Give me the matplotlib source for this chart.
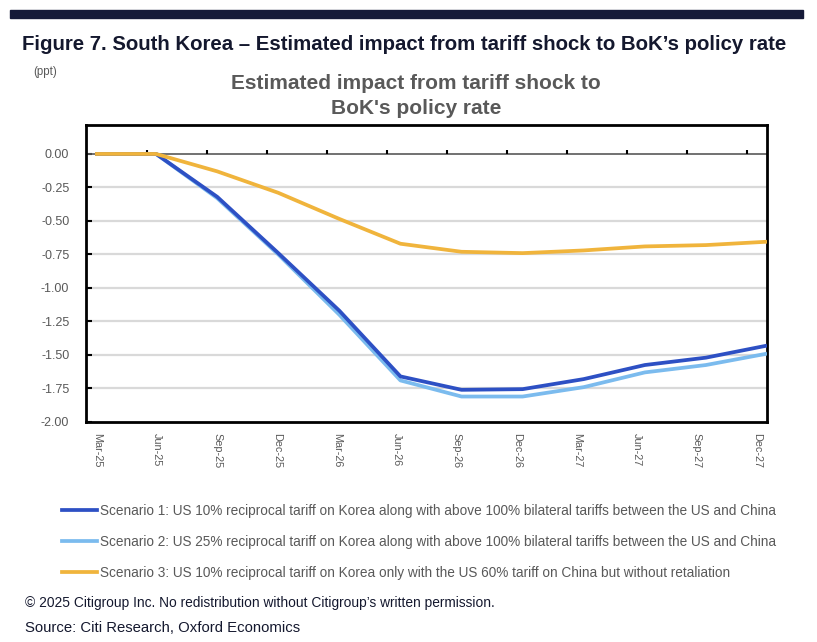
import numpy as np
import matplotlib.pyplot as plt
from matplotlib.lines import Line2D

quarters = ['Mar-25', 'Jun-25', 'Sep-25', 'Dec-25', 'Mar-26', 'Jun-26',
            'Sep-26', 'Dec-26', 'Mar-27', 'Jun-27', 'Sep-27', 'Dec-27']

# ppt impact on policy rate
scenario1 = [0.00, 0.00, -0.32, -0.74, -1.17, -1.66, -1.76, -1.755, -1.68, -1.575, -1.52, -1.43]
scenario2 = [0.00, 0.00, -0.33, -0.75, -1.20, -1.69, -1.81, -1.81, -1.74, -1.63, -1.575, -1.49]
scenario3 = [0.00, 0.00, -0.13, -0.29, -0.485, -0.67, -0.73, -0.74, -0.72, -0.69, -0.68, -0.655]

labels = [
    'Scenario 1: US 10% reciprocal tariff on Korea along with above 100% bilateral tariffs between the US and China',
    'Scenario 2: US 25% reciprocal tariff on Korea along with above 100% bilateral tariffs between the US and China',
    'Scenario 3: US 10% reciprocal tariff on Korea only with the US 60% tariff on China but without retaliation',
]
colors = ['#2d50c4', '#7bbbee', '#f0b43c']
yticks = [0.0, -0.25, -0.5, -0.75, -1.0, -1.25, -1.5, -1.75, -2.0]

plt.rcParams['font.family'] = ['Liberation Sans', 'DejaVu Sans']
grey = '#595959'
dark = '#14182e'

fig = plt.figure(figsize=(8.17, 6.42), dpi=100)
ax = fig.add_axes([0.1053, 0.3427, 0.8335, 0.4626])

x = np.arange(len(quarters))
# light blue under dark blue
ax.plot(x, scenario2, color=colors[1], lw=2.7, solid_capstyle='butt', zorder=3)
ax.plot(x, scenario1, color=colors[0], lw=2.7, solid_capstyle='butt', zorder=4)
ax.plot(x, scenario3, color=colors[2], lw=2.7, solid_capstyle='butt', zorder=5)

ax.set_xlim(-0.147, 11.0)
ax.set_ylim(-2.0, 0.216)

# gridlines and zero axis line
for v in yticks[1:-1]:
    ax.axhline(v, color='#d9d9d9', lw=1.6, zorder=1)
ax.axhline(0, color=grey, lw=1.2, zorder=2)
# category tick marks sit on the zero line
tick_pos = np.arange(1, 12) * 0.982 - 0.136
ax.vlines(tick_pos, 0, 0.03, color='black', lw=1.5, zorder=2)

ax.set_yticks(yticks)
ax.set_yticklabels([f'{v:.2f}' for v in yticks], color=grey, fontsize=9)
ax.tick_params(axis='y', direction='in', length=4, width=1.5, pad=12)

ax.set_xticks(np.arange(12) * 0.982 + 0.033)
ax.set_xticklabels(quarters, rotation=270, color=grey, fontsize=7.8)
ax.tick_params(axis='x', length=0, pad=8)

for s in ax.spines.values():
    s.set_linewidth(2)
    s.set_color('black')

# top rule
fig.patches.append(plt.Rectangle((10 / 817, 1 - 18 / 642), 793 / 817, 8 / 642,
                                 transform=fig.transFigure, color='#151a38'))

fig.text(22 / 817, 1 - 44 / 642,
         'Figure 7. South Korea \u2013 Estimated impact from tariff shock to BoK\u2019s policy rate',
         fontsize=14.7, fontweight='bold', color=dark, va='center')
fig.text(33 / 817, 1 - 72 / 642, '(ppt)', fontsize=8.3, color=grey, va='center')
fig.text(416 / 817, 1 - 96 / 642, 'Estimated impact from tariff shock to\nBoK\'s policy rate',
         fontsize=15, fontweight='bold', color=grey, ha='center', va='center',
         linespacing=1.35)

handles = [Line2D([], [], color=c, lw=2.7) for c in colors]
fig.legend(handles, labels, loc='upper left', bbox_to_anchor=(55 / 817, 1 - 497 / 642),
           frameon=False, fontsize=9.8, handlelength=2.6, handletextpad=0.2,
           labelspacing=1.25, labelcolor=grey, borderpad=0)

fig.text(25 / 817, 1 - 603 / 642,
         '\u00a9 2025 Citigroup Inc. No redistribution without Citigroup\u2019s written permission.',
         fontsize=9.9, color=dark, va='center')
fig.text(25 / 817, 1 - 628 / 642, 'Source: Citi Research, Oxford Economics',
         fontsize=10.7, color=dark, va='center')

fig.savefig('out.png', dpi=100)
